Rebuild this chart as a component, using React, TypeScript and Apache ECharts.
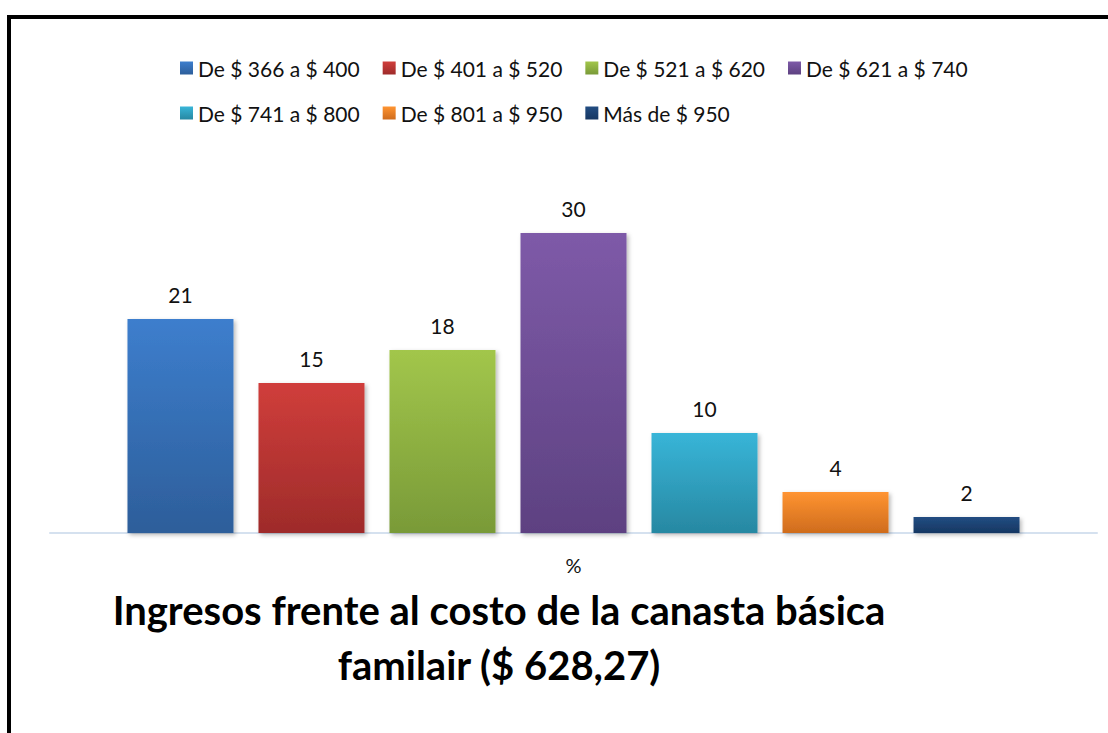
import React, { useEffect, useRef } from "react";
import * as echarts from "echarts";

const categories = ["%"];
const seriesNames = [
  "De $ 366 a $ 400",
  "De $ 401 a $ 520",
  "De $ 521 a $ 620",
  "De $ 621 a $ 740",
  "De $ 741 a $ 800",
  "De $ 801 a $ 950",
  "Más de $ 950",
];
const seriesValues = [21.4, 15.0, 18.3, 30.0, 10.0, 4.1, 1.6];
const topColors = ["#3d7ecd", "#d03e3b", "#a2c64b", "#7e5aa8", "#38b5d8", "#ff9431", "#224d82"];
const bottomColors = ["#2d5e9a", "#9e2b2a", "#799a38", "#5d4181", "#2788a2", "#cf6c1d", "#163762"];
const titleText = "Ingresos frente al costo de la canasta básica\nfamilair ($ 628,27)";

const FONT = 'Lato, "Open Sans", "Noto Sans", sans-serif';

export default function App() {
  const ref = useRef<HTMLDivElement>(null);

  useEffect(() => {
    if (!ref.current) return;
    const chart = echarts.init(ref.current, undefined, { renderer: "svg" });
    const series = seriesNames.map((name, i) => ({
      name,
      type: "bar",
      barGap: "23.6%",
      barCategoryGap: "14.8%",
      data: [seriesValues[i]],
      itemStyle: {
        color: new echarts.graphic.LinearGradient(0, 0, 0, 1, [
          { offset: 0, color: topColors[i] },
          { offset: 1, color: bottomColors[i] },
        ]),
        shadowColor: "rgba(0,0,0,0.28)",
        shadowBlur: 4,
        shadowOffsetX: 2,
        shadowOffsetY: 2,
      },
      label: {
        show: true,
        position: "top",
        distance: 14,
        color: "#111",
        fontFamily: FONT,
        fontSize: 21,
        formatter: (p: any) => String(Math.round(p.value)),
      },
    }));

    chart.setOption({
      animation: false,
      backgroundColor: "#ffffff",
      title: {
        text: titleText,
        left: 494,
        top: 577,
        textAlign: "center",
        textStyle: {
          fontFamily: FONT,
          fontWeight: "bold",
          fontSize: 40,
          lineHeight: 55,
          color: "#000",
        },
      },
      legend: {
        left: 180,
        top: 57,
        width: 800,
        padding: 0,
        itemWidth: 13,
        itemHeight: 13,
        itemGap: 23,
        icon: "rect",
        selectedMode: false,
        textStyle: {
          fontFamily: FONT,
          fontSize: 21,
          lineHeight: 22,
          width: 160,
          color: "#111",
        },
        data: seriesNames,
      },
      grid: { left: 50, right: 11, top: 133, bottom: 200 },
      xAxis: {
        type: "category",
        data: categories,
        axisLine: { show: true, lineStyle: { color: "#d5e1ef", width: 2 } },
        axisTick: { show: false },
        axisLabel: { margin: 22, color: "#111", fontFamily: FONT, fontSize: 20 },
      },
      yAxis: {
        type: "value",
        min: 0,
        max: 40,
        show: false,
        splitLine: { show: false },
      },
      graphic: [
        {
          type: "rect",
          shape: { x: 9, y: 17, width: 1300, height: 900 },
          style: { fill: "none", stroke: "#000", lineWidth: 4 },
          silent: true,
        },
      ],
      series,
    });
    return () => chart.dispose();
  }, []);

  return (
    <div
      ref={ref}
      style={{ position: "fixed", left: 0, top: 0, width: 1108, height: 733, background: "#fff" }}
    />
  );
}
